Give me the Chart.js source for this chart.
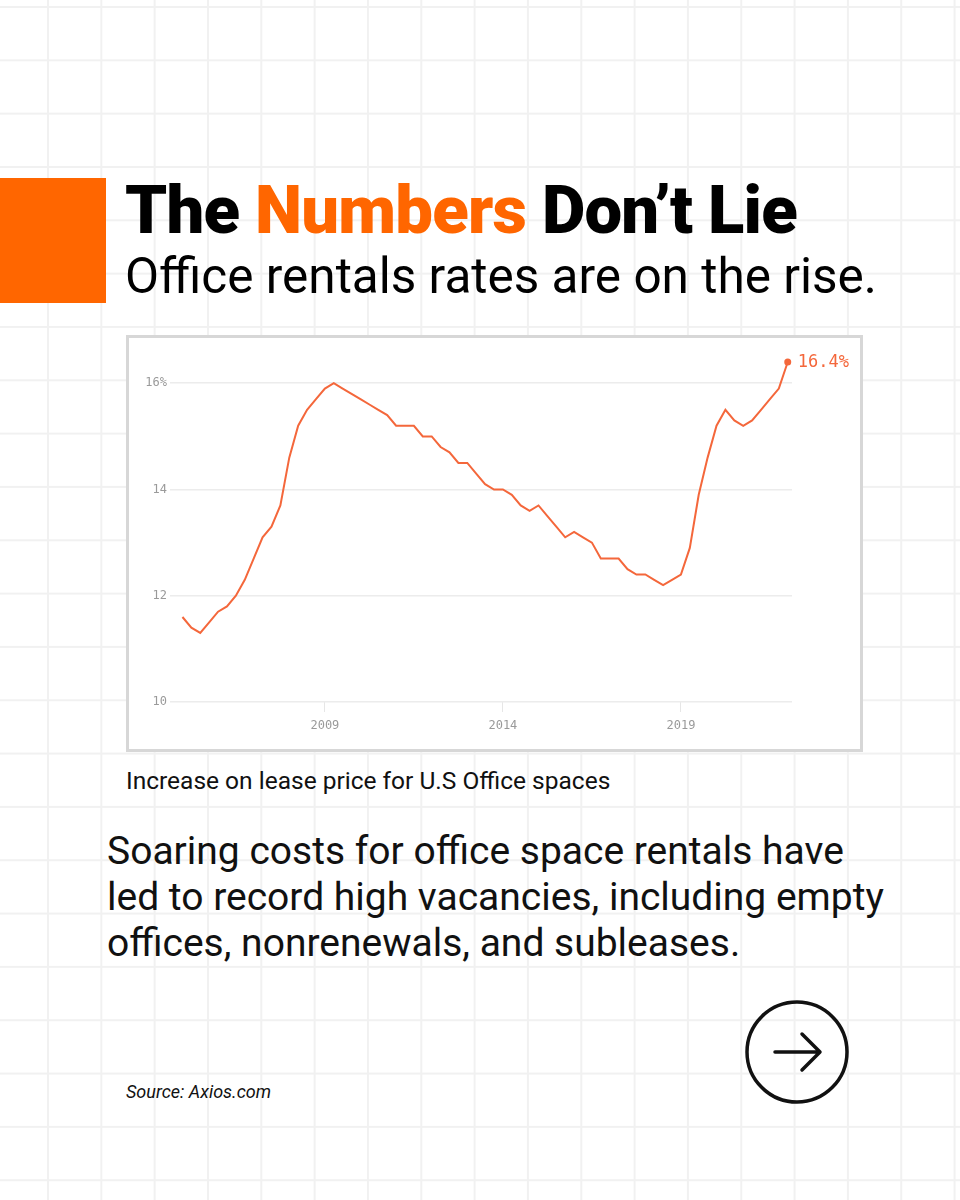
<!DOCTYPE html>
<html lang="en">
<head>
    <meta charset="UTF-8">
    <title>The Numbers Don't Lie</title>
    <script src="https://cdn.jsdelivr.net/npm/chart.js"></script>
    <style>
        html, body {
            margin: 0;
            padding: 0;
        }
        body {
            width: 960px;
            height: 1200px;
            position: relative;
            overflow: hidden;
            font-family: Roboto, "Noto Sans", sans-serif;
            background-color: #ffffff;
            background-image:
                linear-gradient(to right, #f1f1f1 2px, transparent 2px),
                linear-gradient(to bottom, #f1f1f1 2px, transparent 2px);
            background-size: 53.33px 53.33px;
            background-position: 47px 6px;
        }
        #accent {
            position: absolute;
            left: 0;
            top: 178px;
            width: 106px;
            height: 125px;
            background: #ff6600;
        }
        #title {
            position: absolute;
            left: 125px;
            top: 171px;
            margin: 0;
            font-size: 67px;
            font-weight: 900;
            letter-spacing: -0.8px;
            color: #000;
            white-space: nowrap;
        }
        #title span { color: #ff6600; }
        #subtitle {
            position: absolute;
            left: 125px;
            top: 247px;
            margin: 0;
            font-size: 49.5px;
            font-weight: 400;
            color: #000;
            white-space: nowrap;
        }
        #chart-box {
            position: absolute;
            left: 126px;
            top: 335px;
            width: 737px;
            height: 417px;
            box-sizing: border-box;
            border: 3px solid #d7d7d7;
            background: #ffffff;
        }
        #chart-wrap {
            position: relative;
            width: 731px;
            height: 411px;
        }
        #caption {
            position: absolute;
            left: 126px;
            top: 766px;
            margin: 0;
            font-size: 24.5px;
            color: #111;
            white-space: nowrap;
        }
        #body-text {
            position: absolute;
            left: 107px;
            top: 828px;
            margin: 0;
            font-size: 39px;
            line-height: 46px;
            color: #111;
            white-space: nowrap;
        }
        #source {
            position: absolute;
            left: 126px;
            top: 1081px;
            margin: 0;
            font-size: 18px;
            font-style: italic;
            color: #111;
        }
        #next {
            position: absolute;
            left: 744px;
            top: 999px;
        }
    </style>
</head>
<body>
    <div id="accent"></div>
    <h1 id="title">The <span>Numbers</span> Don’t Lie</h1>
    <h2 id="subtitle">Office rentals rates are on the rise.</h2>

    <div id="chart-box">
        <div id="chart-wrap"><canvas id="rentChart"></canvas></div>
    </div>

    <p id="caption">Increase on lease price for U.S Office spaces</p>
    <p id="body-text">Soaring costs for office space rentals have<br>led to record high vacancies, including empty<br>offices, nonrenewals, and subleases.</p>
    <p id="source">Source: Axios.com</p>

    <svg id="next" width="106" height="106" viewBox="0 0 106 106">
        <circle cx="53" cy="53" r="50" fill="none" stroke="#111" stroke-width="3.5"/>
        <path d="M31 53 H75 M58 35 L76 53 L58 71" fill="none" stroke="#111" stroke-width="3.5" stroke-linecap="round" stroke-linejoin="round"/>
    </svg>

    <script>
        // quarterly office lease rate, 2005 Q1 .. 2022 Q1
        const quarters = [
            '2005 Q1','2005 Q2','2005 Q3','2005 Q4',
            '2006 Q1','2006 Q2','2006 Q3','2006 Q4',
            '2007 Q1','2007 Q2','2007 Q3','2007 Q4',
            '2008 Q1','2008 Q2','2008 Q3','2008 Q4',
            '2009 Q1','2009 Q2','2009 Q3','2009 Q4',
            '2010 Q1','2010 Q2','2010 Q3','2010 Q4',
            '2011 Q1','2011 Q2','2011 Q3','2011 Q4',
            '2012 Q1','2012 Q2','2012 Q3','2012 Q4',
            '2013 Q1','2013 Q2','2013 Q3','2013 Q4',
            '2014 Q1','2014 Q2','2014 Q3','2014 Q4',
            '2015 Q1','2015 Q2','2015 Q3','2015 Q4',
            '2016 Q1','2016 Q2','2016 Q3','2016 Q4',
            '2017 Q1','2017 Q2','2017 Q3','2017 Q4',
            '2018 Q1','2018 Q2','2018 Q3','2018 Q4',
            '2019 Q1','2019 Q2','2019 Q3','2019 Q4',
            '2020 Q1','2020 Q2','2020 Q3','2020 Q4',
            '2021 Q1','2021 Q2','2021 Q3','2021 Q4',
            '2022 Q1'
        ];
        const leaseRate = [
            11.6, 11.4, 11.3, 11.5,
            11.7, 11.8, 12.0, 12.3,
            12.7, 13.1, 13.3, 13.7,
            14.6, 15.2, 15.5, 15.7,
            15.9, 16.0, 15.9, 15.8,
            15.7, 15.6, 15.5, 15.4,
            15.2, 15.2, 15.2, 15.0,
            15.0, 14.8, 14.7, 14.5,
            14.5, 14.3, 14.1, 14.0,
            14.0, 13.9, 13.7, 13.6,
            13.7, 13.5, 13.3, 13.1,
            13.2, 13.1, 13.0, 12.7,
            12.7, 12.7, 12.5, 12.4,
            12.4, 12.3, 12.2, 12.3,
            12.4, 12.9, 13.9, 14.6,
            15.2, 15.5, 15.3, 15.2,
            15.3, 15.5, 15.7, 15.9,
            16.4
        ];
        const yTicks = [10, 12, 14, 16];
        const xTicks = [2009, 2014, 2019];

        const lineColor = '#f4673b';
        const tickFont = { family: '"DejaVu Sans Mono", monospace', size: 12 };

        const points = quarters.map((q, i) => {
            const year = parseInt(q.slice(0, 4), 10);
            const qn = parseInt(q.slice(6), 10);
            return { x: year + (qn - 1) / 4, y: leaseRate[i] };
        });
        const lastIndex = points.length - 1;

        const lastLabel = {
            id: 'lastLabel',
            afterDatasetsDraw(chart) {
                const el = chart.getDatasetMeta(0).data[lastIndex];
                const ctx = chart.ctx;
                ctx.save();
                ctx.font = '17px "DejaVu Sans Mono", monospace';
                ctx.fillStyle = lineColor;
                ctx.textAlign = 'left';
                ctx.textBaseline = 'middle';
                ctx.fillText(leaseRate[lastIndex].toFixed(1) + '%', el.x + 10, el.y + 1);
                ctx.restore();
            }
        };

        new Chart(document.getElementById('rentChart').getContext('2d'), {
            type: 'line',
            data: {
                datasets: [{
                    data: points,
                    borderColor: lineColor,
                    backgroundColor: lineColor,
                    borderWidth: 2,
                    tension: 0,
                    clip: false,
                    pointRadius: ctx => ctx.dataIndex === lastIndex ? 3.5 : 0,
                    pointHoverRadius: 0,
                    pointBorderWidth: 0
                }]
            },
            options: {
                responsive: true,
                maintainAspectRatio: false,
                animation: false,
                events: [],
                layout: {
                    padding: { left: 0, right: 68, top: 24, bottom: 0 }
                },
                plugins: {
                    legend: { display: false },
                    tooltip: { enabled: false }
                },
                scales: {
                    x: {
                        type: 'linear',
                        min: 2004.65,
                        max: 2022.12,
                        afterBuildTicks: scale => {
                            scale.ticks = xTicks.map(v => ({ value: v }));
                        },
                        afterFit: scale => { scale.height = 47; },
                        border: { display: false },
                        grid: {
                            drawOnChartArea: false,
                            drawTicks: true,
                            tickLength: 10,
                            tickColor: '#e6e6e6',
                            lineWidth: 1
                        },
                        ticks: {
                            font: tickFont,
                            color: '#9a9a9a',
                            padding: 7,
                            maxRotation: 0,
                            callback: v => String(v)
                        }
                    },
                    y: {
                        min: 10,
                        max: 16.4,
                        afterBuildTicks: scale => {
                            scale.ticks = yTicks.map(v => ({ value: v }));
                        },
                        afterFit: scale => { scale.width = 41; },
                        border: { display: false },
                        grid: {
                            color: '#ececec',
                            lineWidth: 1.5,
                            drawTicks: false
                        },
                        ticks: {
                            font: tickFont,
                            color: '#9a9a9a',
                            padding: 3,
                            callback: v => v === 16 ? '16%' : String(v)
                        }
                    }
                }
            },
            plugins: [lastLabel]
        });
    </script>
</body>
</html>
